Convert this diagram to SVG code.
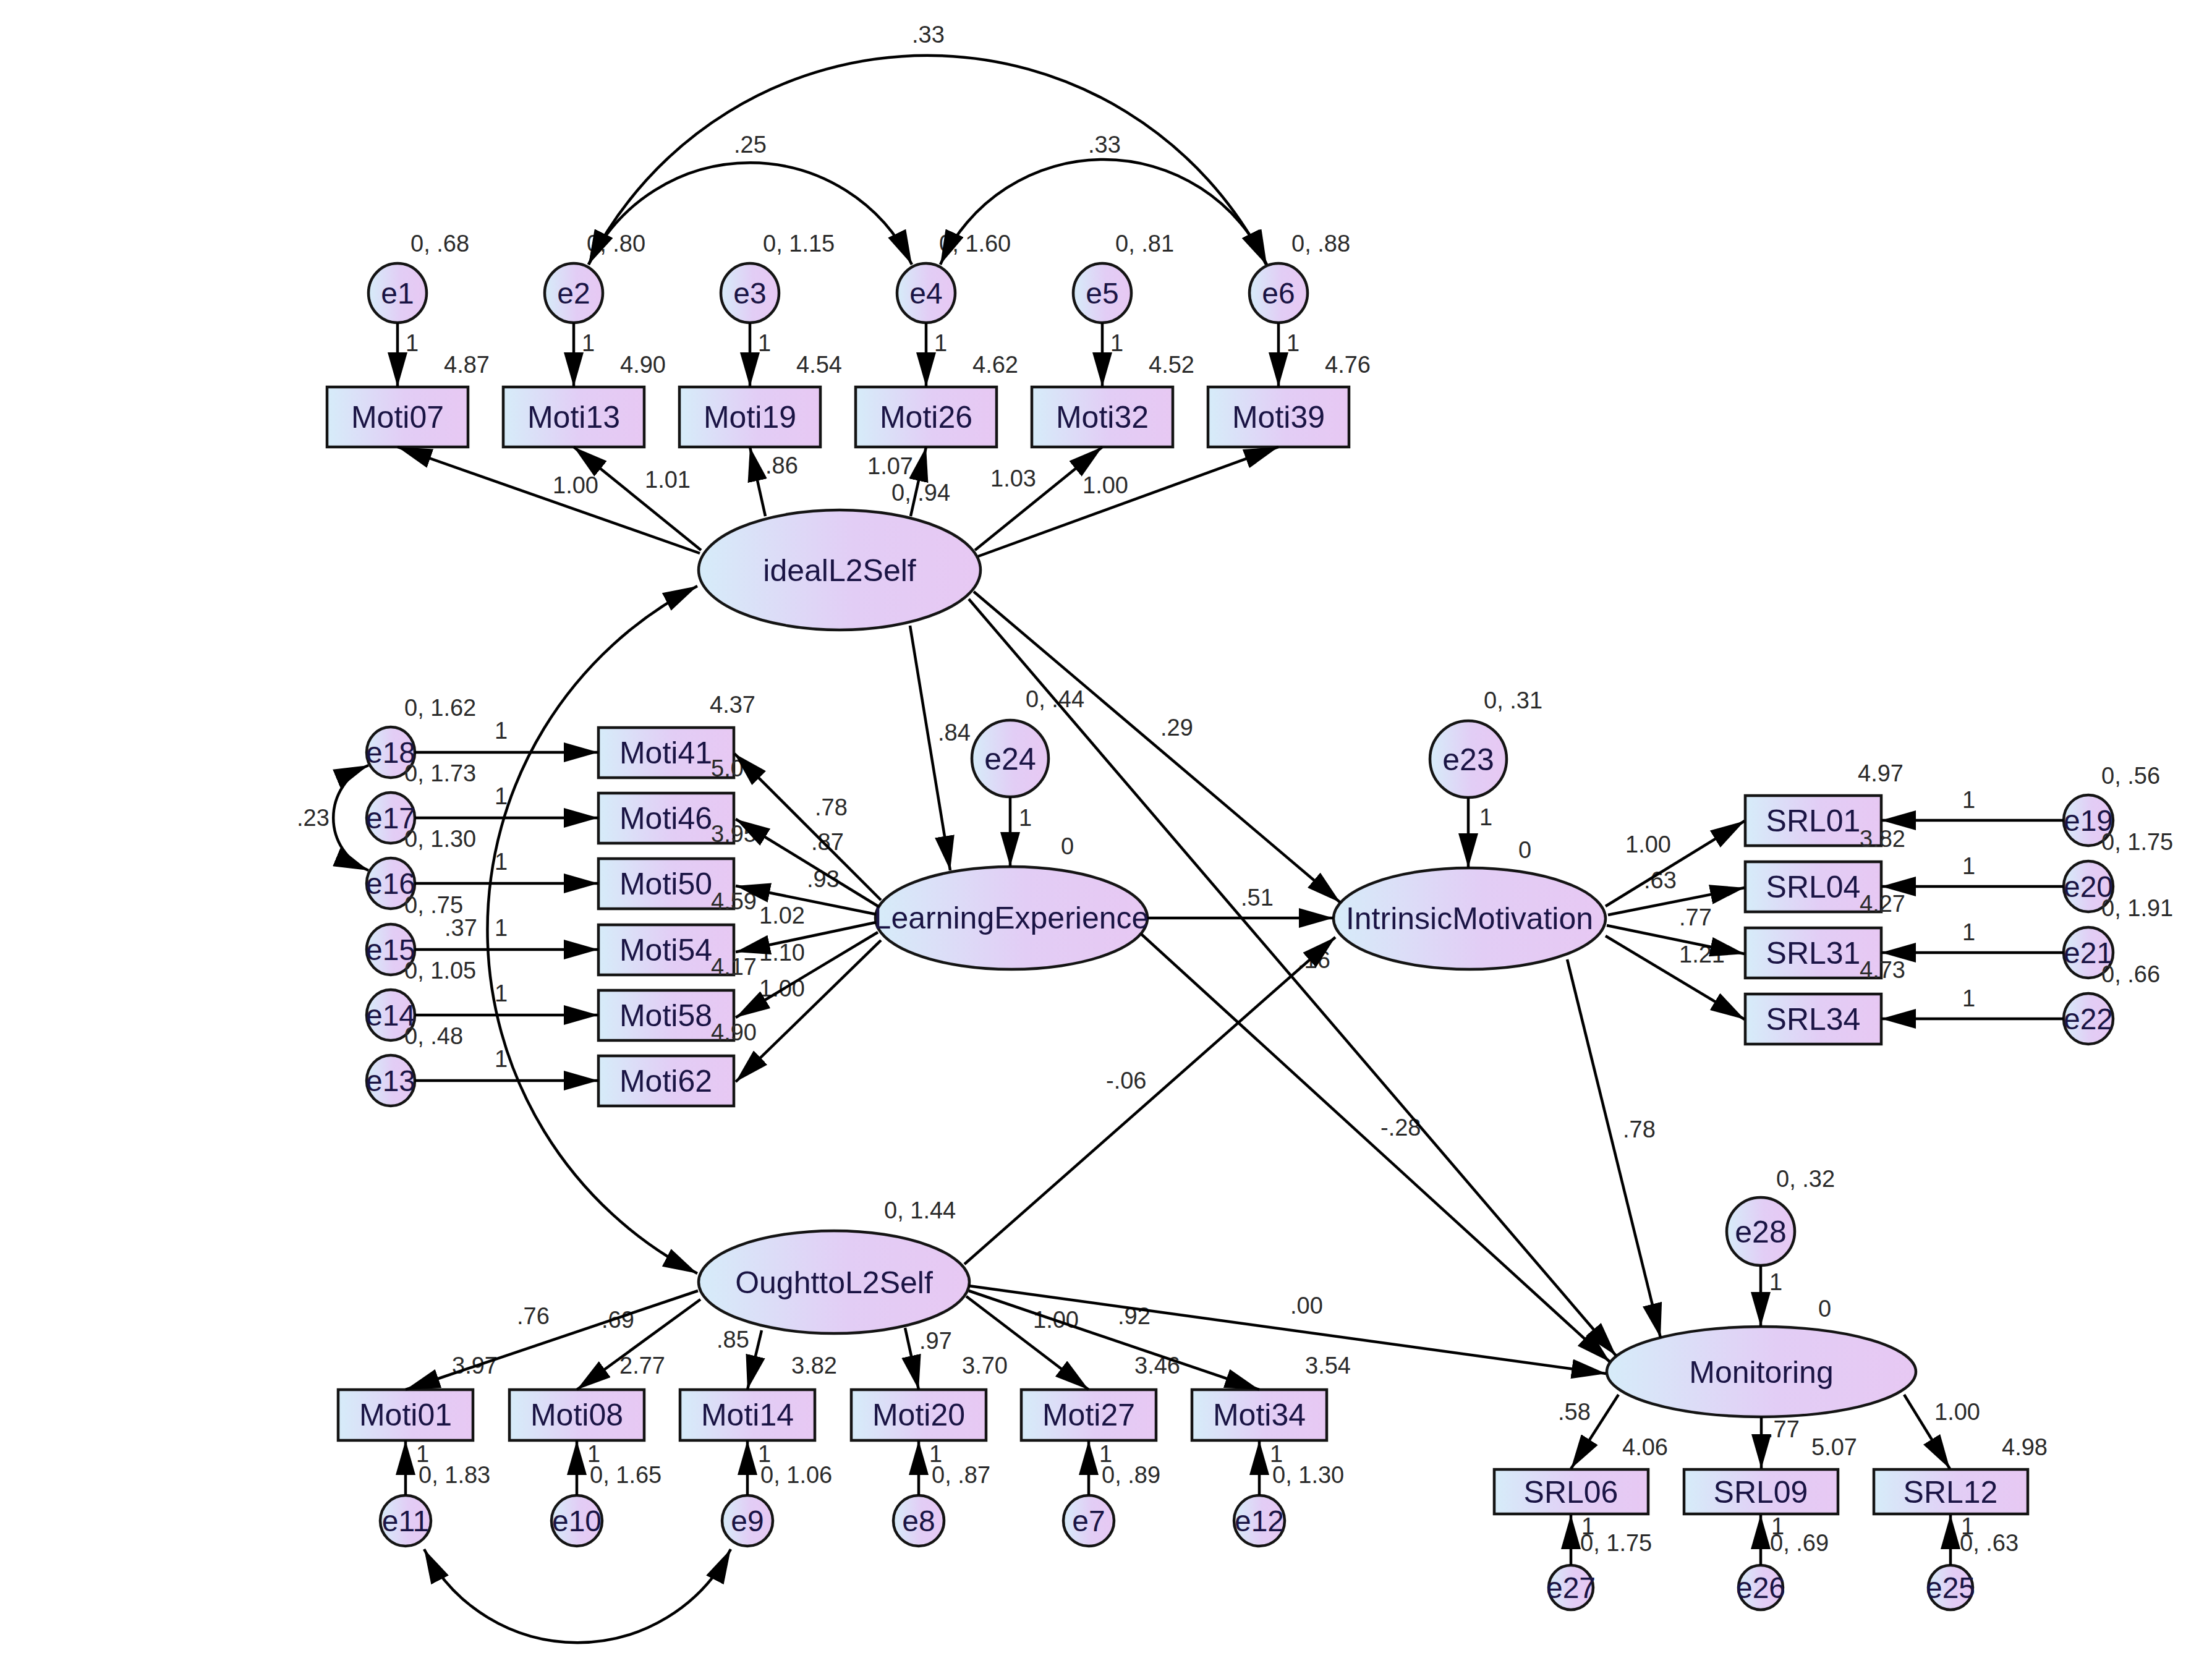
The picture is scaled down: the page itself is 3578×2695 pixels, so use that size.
<svg xmlns="http://www.w3.org/2000/svg" width="3578" height="2695" viewBox="0 0 3578 2695">
<defs>
<linearGradient id="g" x1="0" y1="0" x2="1" y2="0">
<stop offset="0" stop-color="#d6ecf9"/>
<stop offset="0.55" stop-color="#e2cdf5"/>
<stop offset="1" stop-color="#e7c8f3"/>
</linearGradient>
<marker id="ah" viewBox="0 0 56 32" refX="56" refY="16" markerWidth="56" markerHeight="32" markerUnits="userSpaceOnUse" orient="auto-start-reverse">
<path d="M0,0 L56,16 L0,32 z" fill="#000"/>
</marker>
<style>
.n{fill:url(#g);stroke:#141414;stroke-width:4.5}
.nt{font-family:"Liberation Sans",Arial,sans-serif;font-size:50px;fill:#1a1444;text-anchor:middle}
.et{font-family:"Liberation Sans",Arial,sans-serif;font-size:48px;fill:#1a1444;text-anchor:middle}
.eb{font-size:50px}
.p{font-family:"Liberation Sans",Arial,sans-serif;font-size:38px;fill:#2a2a2a}
.c{fill:none;stroke:#000;stroke-width:4.5;marker-end:url(#ah)}
.cv{fill:none;stroke:#000;stroke-width:4.5;marker-start:url(#ah);marker-end:url(#ah)}
</style>
</defs>
<rect x="0" y="0" width="3578" height="2695" fill="#fff"/>

<!-- nodes -->
<g id="nodes">
<g id="e1"><ellipse class="n" cx="643" cy="474" rx="47" ry="48"/><text class="et" x="643" y="491">e1</text></g>
<g id="e2"><ellipse class="n" cx="928" cy="474" rx="47" ry="48"/><text class="et" x="928" y="491">e2</text></g>
<g id="e3"><ellipse class="n" cx="1213" cy="474" rx="47" ry="48"/><text class="et" x="1213" y="491">e3</text></g>
<g id="e4"><ellipse class="n" cx="1498" cy="474" rx="47" ry="48"/><text class="et" x="1498" y="491">e4</text></g>
<g id="e5"><ellipse class="n" cx="1783" cy="474" rx="47" ry="48"/><text class="et" x="1783" y="491">e5</text></g>
<g id="e6"><ellipse class="n" cx="2068" cy="474" rx="47" ry="48"/><text class="et" x="2068" y="491">e6</text></g>

<g id="Moti07"><rect class="n" x="529" y="626" width="228" height="97"/><text class="nt" x="643" y="692">Moti07</text></g>
<g id="Moti13"><rect class="n" x="814" y="626" width="228" height="97"/><text class="nt" x="928" y="692">Moti13</text></g>
<g id="Moti19"><rect class="n" x="1099" y="626" width="228" height="97"/><text class="nt" x="1213" y="692">Moti19</text></g>
<g id="Moti26"><rect class="n" x="1384" y="626" width="228" height="97"/><text class="nt" x="1498" y="692">Moti26</text></g>
<g id="Moti32"><rect class="n" x="1669" y="626" width="228" height="97"/><text class="nt" x="1783" y="692">Moti32</text></g>
<g id="Moti39"><rect class="n" x="1954" y="626" width="228" height="97"/><text class="nt" x="2068" y="692">Moti39</text></g>

<g id="idealL2Self"><ellipse class="n" cx="1358" cy="922" rx="228" ry="97"/><text class="nt" x="1358" y="940">idealL2Self</text></g>

<g id="e18"><ellipse class="n" cx="632" cy="1217" rx="39" ry="41"/><text class="et" x="632" y="1234">e18</text></g>
<g id="e17"><ellipse class="n" cx="632" cy="1323" rx="39" ry="41"/><text class="et" x="632" y="1340">e17</text></g>
<g id="e16"><ellipse class="n" cx="632" cy="1429" rx="39" ry="41"/><text class="et" x="632" y="1446">e16</text></g>
<g id="e15"><ellipse class="n" cx="632" cy="1536" rx="39" ry="41"/><text class="et" x="632" y="1553">e15</text></g>
<g id="e14"><ellipse class="n" cx="632" cy="1642" rx="39" ry="41"/><text class="et" x="632" y="1659">e14</text></g>
<g id="e13"><ellipse class="n" cx="632" cy="1748" rx="39" ry="41"/><text class="et" x="632" y="1765">e13</text></g>

<g id="Moti41"><rect class="n" x="968" y="1177" width="219" height="81"/><text class="nt" x="1077" y="1235">Moti41</text></g>
<g id="Moti46"><rect class="n" x="968" y="1283" width="219" height="81"/><text class="nt" x="1077" y="1341">Moti46</text></g>
<g id="Moti50"><rect class="n" x="968" y="1389" width="219" height="81"/><text class="nt" x="1077" y="1447">Moti50</text></g>
<g id="Moti54"><rect class="n" x="968" y="1496" width="219" height="81"/><text class="nt" x="1077" y="1554">Moti54</text></g>
<g id="Moti58"><rect class="n" x="968" y="1602" width="219" height="81"/><text class="nt" x="1077" y="1660">Moti58</text></g>
<g id="Moti62"><rect class="n" x="968" y="1708" width="219" height="81"/><text class="nt" x="1077" y="1766">Moti62</text></g>

<g id="LearningExperience"><ellipse class="n" cx="1636" cy="1485" rx="220" ry="83"/><text class="nt" x="1636" y="1502">LearningExperience</text></g>
<g id="e24"><ellipse class="n" cx="1634" cy="1227" rx="62" ry="62"/><text class="et eb" x="1634" y="1245">e24</text></g>

<g id="IntrinsicMotivation"><ellipse class="n" cx="2377" cy="1486" rx="220" ry="82"/><text class="nt" x="2377" y="1503">IntrinsicMotivation</text></g>
<g id="e23"><ellipse class="n" cx="2375" cy="1228" rx="62" ry="62"/><text class="et eb" x="2375" y="1246">e23</text></g>

<g id="SRL01"><rect class="n" x="2823" y="1287" width="220" height="81"/><text class="nt" x="2933" y="1345">SRL01</text></g>
<g id="SRL04"><rect class="n" x="2823" y="1394" width="220" height="81"/><text class="nt" x="2933" y="1452">SRL04</text></g>
<g id="SRL31"><rect class="n" x="2823" y="1501" width="220" height="81"/><text class="nt" x="2933" y="1559">SRL31</text></g>
<g id="SRL34"><rect class="n" x="2823" y="1608" width="220" height="81"/><text class="nt" x="2933" y="1666">SRL34</text></g>

<g id="e19"><ellipse class="n" cx="3378" cy="1327" rx="40" ry="41"/><text class="et" x="3378" y="1344">e19</text></g>
<g id="e20"><ellipse class="n" cx="3378" cy="1434" rx="40" ry="41"/><text class="et" x="3378" y="1451">e20</text></g>
<g id="e21"><ellipse class="n" cx="3378" cy="1541" rx="40" ry="41"/><text class="et" x="3378" y="1558">e21</text></g>
<g id="e22"><ellipse class="n" cx="3378" cy="1648" rx="40" ry="41"/><text class="et" x="3378" y="1665">e22</text></g>

<g id="OughttoL2Self"><ellipse class="n" cx="1349" cy="2074" rx="219" ry="83"/><text class="nt" x="1349" y="2092">OughttoL2Self</text></g>

<g id="Moti01"><rect class="n" x="547" y="2248" width="218" height="82"/><text class="nt" x="656" y="2306">Moti01</text></g>
<g id="Moti08"><rect class="n" x="824" y="2248" width="218" height="82"/><text class="nt" x="933" y="2306">Moti08</text></g>
<g id="Moti14"><rect class="n" x="1100" y="2248" width="218" height="82"/><text class="nt" x="1209" y="2306">Moti14</text></g>
<g id="Moti20"><rect class="n" x="1377" y="2248" width="218" height="82"/><text class="nt" x="1486" y="2306">Moti20</text></g>
<g id="Moti27"><rect class="n" x="1652" y="2248" width="218" height="82"/><text class="nt" x="1761" y="2306">Moti27</text></g>
<g id="Moti34"><rect class="n" x="1928" y="2248" width="218" height="82"/><text class="nt" x="2037" y="2306">Moti34</text></g>

<g id="e11"><ellipse class="n" cx="656" cy="2460" rx="41" ry="41"/><text class="et" x="656" y="2477">e11</text></g>
<g id="e10"><ellipse class="n" cx="933" cy="2460" rx="41" ry="41"/><text class="et" x="933" y="2477">e10</text></g>
<g id="e9"><ellipse class="n" cx="1209" cy="2460" rx="41" ry="41"/><text class="et" x="1209" y="2477">e9</text></g>
<g id="e8"><ellipse class="n" cx="1486" cy="2460" rx="41" ry="41"/><text class="et" x="1486" y="2477">e8</text></g>
<g id="e7"><ellipse class="n" cx="1761" cy="2460" rx="41" ry="41"/><text class="et" x="1761" y="2477">e7</text></g>
<g id="e12"><ellipse class="n" cx="2037" cy="2460" rx="41" ry="41"/><text class="et" x="2037" y="2477">e12</text></g>

<g id="Monitoring"><ellipse class="n" cx="2849" cy="2219" rx="250" ry="73"/><text class="nt" x="2849" y="2237">Monitoring</text></g>
<g id="e28"><ellipse class="n" cx="2848" cy="1992" rx="55" ry="55"/><text class="et eb" x="2848" y="2010">e28</text></g>

<g id="SRL06"><rect class="n" x="2417" y="2377" width="249" height="72"/><text class="nt" x="2541" y="2431">SRL06</text></g>
<g id="SRL09"><rect class="n" x="2724" y="2377" width="249" height="72"/><text class="nt" x="2848" y="2431">SRL09</text></g>
<g id="SRL12"><rect class="n" x="3031" y="2377" width="249" height="72"/><text class="nt" x="3155" y="2431">SRL12</text></g>

<g id="e27"><ellipse class="n" cx="2541" cy="2568" rx="36" ry="36"/><text class="et" x="2541" y="2585">e27</text></g>
<g id="e26"><ellipse class="n" cx="2848" cy="2568" rx="36" ry="36"/><text class="et" x="2848" y="2585">e26</text></g>
<g id="e25"><ellipse class="n" cx="3155" cy="2568" rx="36" ry="36"/><text class="et" x="3155" y="2585">e25</text></g>
</g>

<!-- parameter labels -->
<g id="labels">
<text class="p" x="1475" y="69">.33</text>
<text class="p" x="1187" y="247">.25</text>
<text class="p" x="1760" y="247">.33</text>
<text class="p" x="664" y="407">0, .68</text>
<text class="p" x="949" y="407">0, .80</text>
<text class="p" x="1234" y="407">0, 1.15</text>
<text class="p" x="1519" y="407">0, 1.60</text>
<text class="p" x="1804" y="407">0, .81</text>
<text class="p" x="2089" y="407">0, .88</text>
<text class="p" x="656" y="568">1</text>
<text class="p" x="941" y="568">1</text>
<text class="p" x="1226" y="568">1</text>
<text class="p" x="1511" y="568">1</text>
<text class="p" x="1796" y="568">1</text>
<text class="p" x="2081" y="568">1</text>
<text class="p" x="718" y="603">4.87</text>
<text class="p" x="1003" y="603">4.90</text>
<text class="p" x="1288" y="603">4.54</text>
<text class="p" x="1573" y="603">4.62</text>
<text class="p" x="1858" y="603">4.52</text>
<text class="p" x="2143" y="603">4.76</text>
<text class="p" x="894" y="798">1.00</text>
<text class="p" x="1043" y="789">1.01</text>
<text class="p" x="1238" y="766">.86</text>
<text class="p" x="1403" y="767">1.07</text>
<text class="p" x="1442" y="810">0, .94</text>
<text class="p" x="1602" y="787">1.03</text>
<text class="p" x="1751" y="798">1.00</text>

<text class="p" x="654" y="1158">0, 1.62</text>
<text class="p" x="654" y="1264">0, 1.73</text>
<text class="p" x="654" y="1370">0, 1.30</text>
<text class="p" x="654" y="1477">0, .75</text>
<text class="p" x="654" y="1583">0, 1.05</text>
<text class="p" x="654" y="1689">0, .48</text>
<text class="p" x="800" y="1195">1</text>
<text class="p" x="800" y="1301">1</text>
<text class="p" x="800" y="1407">1</text>
<text class="p" x="800" y="1514">1</text>
<text class="p" x="800" y="1620">1</text>
<text class="p" x="800" y="1726">1</text>
<text class="p" x="719" y="1514">.37</text>
<text class="p" x="480" y="1336">.23</text>
<text class="p" x="1148" y="1153">4.37</text>
<text class="p" x="1150" y="1256">5.0</text>
<text class="p" x="1150" y="1362">3.95</text>
<text class="p" x="1150" y="1471">4.59</text>
<text class="p" x="1150" y="1577">4.17</text>
<text class="p" x="1150" y="1683">4.90</text>
<text class="p" x="1318" y="1319">.78</text>
<text class="p" x="1312" y="1375">.87</text>
<text class="p" x="1305" y="1435">.93</text>
<text class="p" x="1228" y="1494">1.02</text>
<text class="p" x="1228" y="1554">1.10</text>
<text class="p" x="1228" y="1612">1.00</text>

<text class="p" x="1517" y="1198">.84</text>
<text class="p" x="1659" y="1144">0, .44</text>
<text class="p" x="1648" y="1336">1</text>
<text class="p" x="1716" y="1382">0</text>
<text class="p" x="1877" y="1190">.29</text>
<text class="p" x="2007" y="1465">.51</text>
<text class="p" x="2099" y="1566">.16</text>
<text class="p" x="1789" y="1761">-.06</text>
<text class="p" x="2233" y="1837">-.28</text>
<text class="p" x="2400" y="1146">0, .31</text>
<text class="p" x="2393" y="1335">1</text>
<text class="p" x="2456" y="1388">0</text>
<text class="p" x="3005" y="1264">4.97</text>
<text class="p" x="2629" y="1379">1.00</text>
<text class="p" x="2659" y="1437">.63</text>
<text class="p" x="2716" y="1497">.77</text>
<text class="p" x="2716" y="1557">1.21</text>
<text class="p" x="3008" y="1370">3.82</text>
<text class="p" x="3008" y="1475">4.27</text>
<text class="p" x="3008" y="1582">4.73</text>
<text class="p" x="3174" y="1307">1</text>
<text class="p" x="3174" y="1414">1</text>
<text class="p" x="3174" y="1521">1</text>
<text class="p" x="3174" y="1628">1</text>
<text class="p" x="3399" y="1268">0, .56</text>
<text class="p" x="3399" y="1375">0, 1.75</text>
<text class="p" x="3399" y="1482">0, 1.91</text>
<text class="p" x="3399" y="1589">0, .66</text>

<text class="p" x="2625" y="1840">.78</text>
<text class="p" x="2873" y="1920">0, .32</text>
<text class="p" x="2862" y="2087">1</text>
<text class="p" x="2941" y="2130">0</text>
<text class="p" x="2520" y="2297">.58</text>
<text class="p" x="2858" y="2325">.77</text>
<text class="p" x="3129" y="2297">1.00</text>
<text class="p" x="2624" y="2354">4.06</text>
<text class="p" x="2930" y="2354">5.07</text>
<text class="p" x="3238" y="2354">4.98</text>
<text class="p" x="2558" y="2482">1</text>
<text class="p" x="2865" y="2482">1</text>
<text class="p" x="3172" y="2482">1</text>
<text class="p" x="2556" y="2509">0, 1.75</text>
<text class="p" x="2863" y="2509">0, .69</text>
<text class="p" x="3170" y="2509">0, .63</text>

<text class="p" x="1430" y="1971">0, 1.44</text>
<text class="p" x="2087" y="2125">.00</text>
<text class="p" x="836" y="2142">.76</text>
<text class="p" x="973" y="2148">.69</text>
<text class="p" x="1159" y="2180">.85</text>
<text class="p" x="1487" y="2182">.97</text>
<text class="p" x="1671" y="2148">1.00</text>
<text class="p" x="1808" y="2142">.92</text>
<text class="p" x="731" y="2222">3.97</text>
<text class="p" x="1002" y="2222">2.77</text>
<text class="p" x="1280" y="2222">3.82</text>
<text class="p" x="1556" y="2222">3.70</text>
<text class="p" x="1835" y="2222">3.46</text>
<text class="p" x="2111" y="2222">3.54</text>
<text class="p" x="673" y="2365">1</text>
<text class="p" x="950" y="2365">1</text>
<text class="p" x="1226" y="2365">1</text>
<text class="p" x="1503" y="2365">1</text>
<text class="p" x="1778" y="2365">1</text>
<text class="p" x="2054" y="2365">1</text>
<text class="p" x="677" y="2399">0, 1.83</text>
<text class="p" x="954" y="2399">0, 1.65</text>
<text class="p" x="1230" y="2399">0, 1.06</text>
<text class="p" x="1507" y="2399">0, .87</text>
<text class="p" x="1782" y="2399">0, .89</text>
<text class="p" x="2058" y="2399">0, 1.30</text>
</g>

<!-- connectors -->
<g id="connectors">
<path class="c" d="M643,522 L643,626"/>
<path class="c" d="M928,522 L928,626"/>
<path class="c" d="M1213,522 L1213,626"/>
<path class="c" d="M1498,522 L1498,626"/>
<path class="c" d="M1783,522 L1783,626"/>
<path class="c" d="M2068,522 L2068,626"/>
<path class="cv" d="M952,428 A290,290 0 0,1 1475,428"/>
<path class="cv" d="M1521,428 A290,290 0 0,1 2049,428"/>
<path class="cv" d="M952,428 A613,613 0 0,1 2048,428"/>
<path class="c" d="M1132,895 L643,723"/>
<path class="c" d="M1134,890 L928,723"/>
<path class="c" d="M1238,835 L1213,723"/>
<path class="c" d="M1473,835 L1498,723"/>
<path class="c" d="M1577,890 L1783,723"/>
<path class="c" d="M1582,900 L2068,723"/>

<path class="c" d="M671,1217 L968,1217"/>
<path class="c" d="M671,1323 L968,1323"/>
<path class="c" d="M671,1429 L968,1429"/>
<path class="c" d="M671,1536 L968,1536"/>
<path class="c" d="M671,1642 L968,1642"/>
<path class="c" d="M671,1748 L968,1748"/>
<path class="cv" d="M596,1408 A92,92 0 0,1 596,1238"/>
<path class="cv" d="M1128,948 A625,625 0 0,0 1128,2060"/>

<path class="c" d="M1425,1456 L1188,1219"/>
<path class="c" d="M1422,1467 L1190,1325"/>
<path class="c" d="M1417,1479 L1190,1433"/>
<path class="c" d="M1417,1492 L1190,1540"/>
<path class="c" d="M1420,1508 L1190,1646"/>
<path class="c" d="M1425,1521 L1190,1750"/>

<path class="c" d="M1472,1012 L1537,1408"/>
<path class="c" d="M1634,1289 L1634,1402"/>
<path class="c" d="M1856,1485 L2157,1485"/>
<path class="c" d="M1575,957 L2168,1460"/>
<path class="c" d="M1567,969 L2614,2193"/>
<path class="c" d="M1846,1511 L2604,2203"/>
<path class="c" d="M1560,2045 L2160,1516"/>
<path class="c" d="M2375,1290 L2375,1404"/>

<path class="c" d="M2597,1466 L2822,1328"/>
<path class="c" d="M2601,1480 L2822,1436"/>
<path class="c" d="M2599,1497 L2822,1543"/>
<path class="c" d="M2597,1514 L2822,1649"/>
<path class="c" d="M3338,1327 L3043,1327"/>
<path class="c" d="M3338,1434 L3043,1434"/>
<path class="c" d="M3338,1541 L3043,1541"/>
<path class="c" d="M3338,1648 L3043,1648"/>

<path class="c" d="M2535,1552 L2686,2164"/>
<path class="c" d="M1567,2080 L2598,2222"/>
<path class="c" d="M2848,2047 L2848,2146"/>
<path class="c" d="M2618,2256 L2541,2376"/>
<path class="c" d="M2849,2292 L2849,2376"/>
<path class="c" d="M3080,2256 L3154,2376"/>
<path class="c" d="M2541,2532 L2541,2450"/>
<path class="c" d="M2848,2532 L2848,2450"/>
<path class="c" d="M3155,2532 L3155,2450"/>

<path class="c" d="M1129,2088 L656,2248"/>
<path class="c" d="M1133,2102 L933,2248"/>
<path class="c" d="M1232,2152 L1209,2248"/>
<path class="c" d="M1464,2148 L1486,2248"/>
<path class="c" d="M1563,2097 L1761,2248"/>
<path class="c" d="M1567,2088 L2037,2248"/>
<path class="c" d="M656,2419 L656,2330"/>
<path class="c" d="M933,2419 L933,2330"/>
<path class="c" d="M1209,2419 L1209,2330"/>
<path class="c" d="M1486,2419 L1486,2330"/>
<path class="c" d="M1761,2419 L1761,2330"/>
<path class="c" d="M2037,2419 L2037,2330"/>
<path class="cv" d="M686,2506 A279,279 0 0,0 1182,2506"/>
</g>
</svg>
